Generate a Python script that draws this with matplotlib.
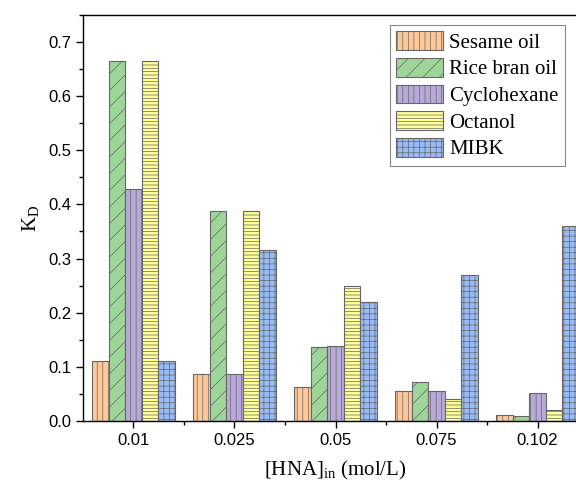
import numpy as np
import matplotlib
matplotlib.use("Agg")
import matplotlib.pyplot as plt
from matplotlib.ticker import MultipleLocator, FixedLocator

# concentrations of HNA
conc = ["0.01", "0.025", "0.05", "0.075", "0.102"]

sesame = [0.110, 0.086, 0.063, 0.056, 0.011]
rice_bran = [0.665, 0.388, 0.136, 0.071, 0.009]
cyclohexane = [0.428, 0.086, 0.139, 0.056, 0.051]
octanol = [0.665, 0.388, 0.250, 0.041, 0.021]
mibk = [0.110, 0.315, 0.219, 0.270, 0.360]

names = ["Sesame oil", "Rice bran oil", "Cyclohexane", "Octanol", "MIBK"]
series = [sesame, rice_bran, cyclohexane, octanol, mibk]
colors = ["#FFC896", "#9ED69A", "#B9A9D9", "#FFFF99", "#99BBF5"]
hatches = ["|||", "//", "|||", "-----", "+++"]

plt.rcParams['mathtext.fontset'] = 'custom'
plt.rcParams['mathtext.rm'] = 'Liberation Serif'
plt.rcParams['hatch.linewidth'] = 0.5

fig = plt.figure(figsize=(5.76, 4.86), dpi=100)
ax = fig.add_axes([0.144, 0.134, 0.877, 0.835])

x = np.arange(len(conc))
w = 0.163
for i, (vals, name) in enumerate(zip(series, names)):
    ax.bar(x + (i - 2) * w, vals, w, color=colors[i], edgecolor="#666666",
           linewidth=0.8, hatch=hatches[i], label=name)

ax.set_xlim(-0.5, len(conc) - 0.5)
ax.set_ylim(0, 0.75)
ax.set_xticks(x)
ax.set_xticklabels(conc, family="Liberation Sans", fontsize=12)
ax.xaxis.set_minor_locator(FixedLocator(x[:-1] + 0.5))
ax.yaxis.set_minor_locator(MultipleLocator(0.05))
ax.set_yticks(np.arange(0, 0.71, 0.1))
ax.set_yticklabels(["%.1f" % v for v in np.arange(0, 0.71, 0.1)],
                   family="Liberation Sans", fontsize=12)
ax.tick_params(which="major", length=5, width=1, direction="out")
ax.tick_params(which="minor", length=3, width=1, direction="out")
for s in ax.spines.values():
    s.set_linewidth(1)

ax.set_ylabel(r"K$_\mathrm{D}$", family="Liberation Serif", fontsize=15, labelpad=4)
ax.set_xlabel(r"[HNA]$_\mathrm{in}$ (mol/L)", family="Liberation Serif", fontsize=15, labelpad=8)

leg = ax.legend(loc="upper left", bbox_to_anchor=(0.659, 0.97), bbox_transform=fig.transFigure,
                prop={"family": "Liberation Serif", "size": 15},
                handlelength=2.25, handleheight=1.0, handletextpad=0.3,
                labelspacing=0.25, borderpad=0.3, fancybox=False,
                edgecolor="#888888", framealpha=1)
leg.get_frame().set_linewidth(0.8)

fig.savefig("out.png", dpi=100)
